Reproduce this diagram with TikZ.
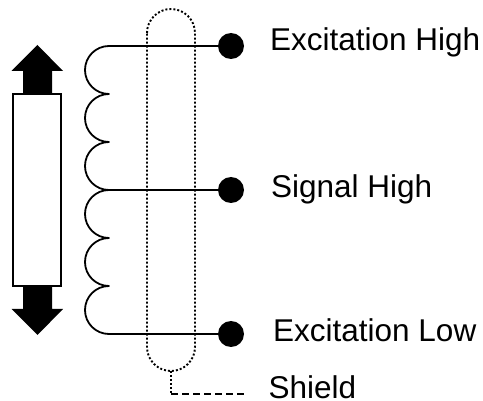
\documentclass[tikz,border=0pt]{standalone}
\usepackage{fontspec}
\setmainfont{Liberation Sans}
\tikzset{
  wire/.style={line width=1.8pt,black,line join=round},
  term/.style={circle,fill=black,inner sep=0pt,minimum size=26pt},
  lab/.style={anchor=base west,inner sep=0pt,font=\fontsize{31.5}{32}\selectfont},
  shieldline/.style={line width=1.9pt,black,dash pattern=on 2pt off 2pt},
  bigarrow/.style={fill=black,draw=none},
}
\begin{document}
\begin{tikzpicture}[x=1pt,y=-1pt]
\useasboundingbox (0,0) rectangle (483,401);
% rod and arrows
\fill[bigarrow] (37.5,45) -- (63,71) -- (52,71) -- (52,95) -- (23,95) -- (23,71) -- (11.5,71) -- cycle;
\fill[bigarrow] (37.5,335) -- (63,309) -- (52,309) -- (52,285) -- (23,285) -- (23,309) -- (11.5,309) -- cycle;
\node[draw=black,line width=1.8pt,fill=white,inner sep=0pt,minimum width=48pt,minimum height=192pt] (rod) at (37,190) {};
% terminals
\node[term] (eh) at (231,46) {};
\node[term] (sh) at (231,190) {};
\node[term] (el) at (231,334) {};
% coil coordinates
\coordinate (c0) at (109,46);
\coordinate (c3) at (109,190);
\coordinate (c6) at (109,334);
\draw[wire] (eh) -- (c0);
\draw[wire] (sh) -- (c3);
\draw[wire] (el) -- (c6);
\draw[wire] (c0) arc[start angle=90,end angle=270,radius=24pt]
  arc[start angle=90,end angle=270,radius=24pt]
  arc[start angle=90,end angle=270,radius=24pt]
  arc[start angle=90,end angle=270,radius=24pt]
  arc[start angle=90,end angle=270,radius=24pt]
  arc[start angle=90,end angle=270,radius=24pt];
% shield
\draw[shieldline] (147,33) arc[start angle=180,end angle=0,radius=24pt] -- (195,347) arc[start angle=0,end angle=-180,radius=24pt] -- cycle;
\coordinate (sb) at (171,371);
\coordinate (sc) at (171,394);
\coordinate (se) at (244,394);
\draw[shieldline] (sb) -- (sc);
\draw[line width=1.4pt,dash pattern=on 7pt off 4pt] (sc) -- (se);
% labels
\node[lab] (t1) at (270,51) {Excitation High};
\node[lab] (t2) at (271,197.5) {Signal High};
\node[lab] (t3) at (273,342) {Excitation Low};
\node[lab] (t4) at (268.5,399) {Shield};
\end{tikzpicture}
\end{document}
